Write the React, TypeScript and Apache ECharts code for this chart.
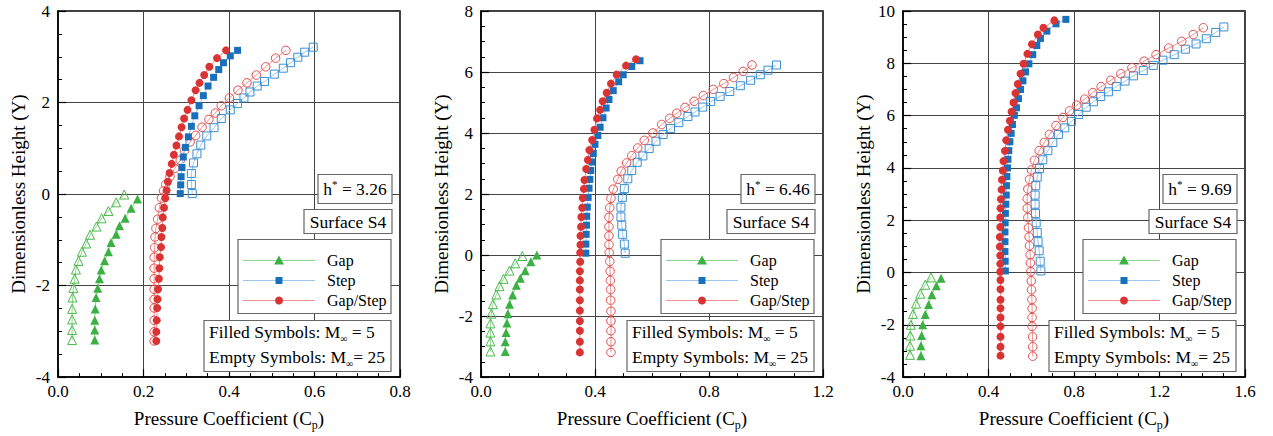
import React, { useEffect, useRef } from "react";
import * as echarts from "echarts";

const FONT = "Liberation Serif";

// ---------- Panel titles / labels ----------
const hStarLabels = ["3.26", "6.46", "9.69"];
const surfaceLabel = "Surface S4";
const legendNames = ["Gap", "Step", "Gap/Step"];
const xMax = [0.8, 1.2, 1.6];
const xInterval = [0.2, 0.4, 0.4];
const yMax = [4, 8, 10];
const yMin = -4;
const yInterval = 2;

// ---------- Panel 1 (h* = 3.26) : [Cp, Y] ----------
const p1GapM5 = [[0.186,-0.11],[0.171,-0.31],[0.157,-0.53],[0.144,-0.69],[0.136,-0.88],[0.124,-1.06],[0.118,-1.26],[0.109,-1.46],[0.101,-1.66],[0.097,-1.85],[0.093,-2.06],[0.089,-2.26],[0.087,-2.51],[0.086,-2.76],[0.086,-2.97],[0.086,-3.19]];
const p1GapM25 = [[0.155,-0.01],[0.136,-0.18],[0.118,-0.37],[0.102,-0.53],[0.090,-0.71],[0.075,-0.89],[0.066,-1.08],[0.056,-1.26],[0.048,-1.46],[0.042,-1.65],[0.039,-1.85],[0.036,-2.05],[0.034,-2.26],[0.033,-2.51],[0.033,-2.74],[0.033,-2.97],[0.033,-3.19]];
const p1StepM5 = [[0.286,0.01],[0.287,0.20],[0.288,0.38],[0.290,0.58],[0.293,0.81],[0.298,1.02],[0.305,1.25],[0.312,1.48],[0.320,1.71],[0.330,1.93],[0.340,2.15],[0.351,2.36],[0.364,2.55],[0.376,2.72],[0.387,2.87],[0.403,3.02],[0.420,3.14]];
const p1StepM25 = [[0.314,0.01],[0.312,0.21],[0.312,0.45],[0.317,0.68],[0.325,0.88],[0.334,1.07],[0.348,1.27],[0.365,1.45],[0.382,1.65],[0.403,1.84],[0.420,1.98],[0.435,2.10],[0.449,2.23],[0.466,2.36],[0.483,2.46],[0.506,2.62],[0.527,2.75],[0.544,2.87],[0.561,2.99],[0.577,3.10],[0.597,3.21]];
const p1GapStepM5 = [[0.230,-3.21],[0.230,-3.01],[0.231,-2.76],[0.232,-2.49],[0.233,-2.30],[0.234,-2.08],[0.236,-1.85],[0.237,-1.62],[0.238,-1.38],[0.241,-1.16],[0.242,-0.94],[0.244,-0.74],[0.245,-0.51],[0.248,-0.30],[0.251,-0.09],[0.254,0.08],[0.257,0.27],[0.261,0.46],[0.266,0.66],[0.271,0.86],[0.277,1.06],[0.283,1.26],[0.289,1.46],[0.295,1.65],[0.303,1.84],[0.312,2.05],[0.322,2.27],[0.331,2.43],[0.342,2.60],[0.354,2.78],[0.372,2.97],[0.393,3.14]];
const p1GapStepM25 = [[0.225,-3.21],[0.225,-3.01],[0.225,-2.76],[0.225,-2.49],[0.225,-2.30],[0.225,-2.08],[0.225,-1.85],[0.225,-1.62],[0.225,-1.38],[0.226,-1.17],[0.227,-0.94],[0.229,-0.75],[0.233,-0.55],[0.237,-0.30],[0.242,-0.09],[0.247,0.07],[0.252,0.21],[0.262,0.38],[0.273,0.56],[0.286,0.74],[0.296,0.95],[0.309,1.14],[0.322,1.28],[0.337,1.46],[0.353,1.63],[0.368,1.77],[0.382,1.93],[0.401,2.10],[0.421,2.27],[0.442,2.43],[0.464,2.60],[0.486,2.78],[0.509,2.97],[0.533,3.14]];

// ---------- Panel 2 (h* = 6.46) ----------
const p2GapM5 = [[0.196,0.00],[0.175,-0.22],[0.155,-0.51],[0.138,-0.76],[0.124,-0.99],[0.111,-1.31],[0.100,-1.61],[0.094,-1.92],[0.091,-2.23],[0.088,-2.54],[0.085,-2.84],[0.085,-3.16]];
const p2GapM25 = [[0.145,-0.03],[0.120,-0.27],[0.100,-0.51],[0.079,-0.78],[0.065,-1.02],[0.054,-1.29],[0.042,-1.61],[0.036,-1.92],[0.033,-2.24],[0.033,-2.54],[0.033,-2.83],[0.033,-3.16]];
const p2StepM5 = [[0.368,0.06],[0.368,0.36],[0.369,0.68],[0.370,0.98],[0.371,1.27],[0.373,1.57],[0.376,1.89],[0.379,2.19],[0.382,2.48],[0.385,2.77],[0.389,3.05],[0.394,3.33],[0.400,3.63],[0.410,3.92],[0.418,4.19],[0.428,4.50],[0.439,4.82],[0.449,5.10],[0.464,5.39],[0.483,5.68],[0.499,5.91],[0.529,6.18],[0.558,6.37]];
const p2StepM25 = [[0.506,0.06],[0.503,0.36],[0.497,0.68],[0.494,0.98],[0.491,1.25],[0.491,1.57],[0.496,1.89],[0.503,2.18],[0.515,2.50],[0.529,2.77],[0.548,3.04],[0.568,3.25],[0.590,3.49],[0.614,3.73],[0.639,3.95],[0.665,4.15],[0.694,4.34],[0.726,4.54],[0.751,4.69],[0.778,4.85],[0.806,5.03],[0.839,5.20],[0.873,5.36],[0.910,5.55],[0.946,5.73],[0.980,5.91],[1.007,6.06],[1.037,6.23]];
const p2GapStepM5 = [[0.347,-3.19],[0.347,-2.84],[0.347,-2.48],[0.347,-2.16],[0.347,-1.82],[0.347,-1.48],[0.347,-1.13],[0.347,-0.83],[0.347,-0.53],[0.348,-0.22],[0.348,0.08],[0.349,0.34],[0.349,0.63],[0.351,0.93],[0.352,1.25],[0.355,1.55],[0.357,1.87],[0.361,2.17],[0.363,2.46],[0.369,2.82],[0.375,3.12],[0.380,3.44],[0.390,3.77],[0.398,4.11],[0.407,4.48],[0.418,4.76],[0.427,5.04],[0.441,5.32],[0.456,5.62],[0.476,5.92],[0.509,6.21],[0.544,6.42]];
const p2GapStepM25 = [[0.456,-3.19],[0.456,-2.84],[0.456,-2.48],[0.456,-2.16],[0.456,-1.84],[0.455,-1.48],[0.455,-1.13],[0.454,-0.83],[0.453,-0.53],[0.452,-0.21],[0.450,0.08],[0.449,0.34],[0.449,0.63],[0.449,0.93],[0.449,1.24],[0.452,1.55],[0.456,1.86],[0.464,2.16],[0.480,2.48],[0.492,2.75],[0.511,3.02],[0.529,3.26],[0.550,3.51],[0.573,3.76],[0.603,4.00],[0.634,4.28],[0.662,4.48],[0.687,4.65],[0.716,4.84],[0.748,5.04],[0.780,5.23],[0.815,5.43],[0.852,5.62],[0.886,5.82],[0.920,6.02],[0.951,6.23]];

// ---------- Panel 3 (h* = 9.69) ----------
const p3GapM5 = [[0.178,-0.22],[0.156,-0.51],[0.135,-0.85],[0.120,-1.22],[0.104,-1.61],[0.092,-2.00],[0.087,-2.41],[0.084,-2.80],[0.084,-3.18]];
const p3GapM25 = [[0.131,-0.19],[0.104,-0.47],[0.081,-0.81],[0.061,-1.19],[0.047,-1.59],[0.037,-2.00],[0.034,-2.41],[0.033,-2.80],[0.033,-3.15]];
const p3StepM5 = [[0.479,0.06],[0.478,0.43],[0.477,0.80],[0.477,1.18],[0.477,1.55],[0.478,1.90],[0.479,2.26],[0.481,2.61],[0.483,2.96],[0.484,3.32],[0.486,3.67],[0.489,4.00],[0.491,4.33],[0.495,4.66],[0.500,5.00],[0.506,5.32],[0.512,5.66],[0.521,6.01],[0.531,6.30],[0.540,6.65],[0.550,7.00],[0.561,7.33],[0.573,7.67],[0.589,7.98],[0.607,8.33],[0.626,8.68],[0.643,8.95],[0.673,9.23],[0.716,9.51],[0.762,9.68]];
const p3StepM25 = [[0.645,0.06],[0.642,0.43],[0.637,0.83],[0.632,1.18],[0.628,1.53],[0.623,1.90],[0.620,2.26],[0.618,2.61],[0.618,2.96],[0.621,3.32],[0.628,3.65],[0.639,3.98],[0.654,4.31],[0.678,4.66],[0.701,4.97],[0.727,5.28],[0.757,5.53],[0.788,5.78],[0.822,6.04],[0.857,6.32],[0.891,6.53],[0.925,6.73],[0.961,6.91],[0.998,7.11],[1.039,7.32],[1.078,7.52],[1.124,7.72],[1.171,7.92],[1.216,8.12],[1.269,8.33],[1.321,8.54],[1.371,8.74],[1.419,8.94],[1.463,9.18],[1.501,9.39]];
const p3GapStepM5 = [[0.456,-3.18],[0.456,-2.84],[0.456,-2.46],[0.456,-2.06],[0.456,-1.72],[0.456,-1.37],[0.456,-1.04],[0.456,-0.64],[0.456,-0.29],[0.455,0.03],[0.455,0.33],[0.455,0.65],[0.453,0.99],[0.453,1.36],[0.455,1.74],[0.455,2.10],[0.456,2.46],[0.458,2.80],[0.461,3.17],[0.463,3.55],[0.467,3.90],[0.470,4.26],[0.477,4.65],[0.483,5.06],[0.491,5.46],[0.500,5.80],[0.508,6.15],[0.517,6.50],[0.526,6.86],[0.537,7.21],[0.550,7.60],[0.564,7.98],[0.582,8.36],[0.603,8.73],[0.631,9.10],[0.657,9.36],[0.708,9.64]];
const p3GapStepM25 = [[0.607,-3.20],[0.607,-2.84],[0.606,-2.46],[0.604,-2.06],[0.604,-1.72],[0.604,-1.37],[0.603,-1.03],[0.601,-0.66],[0.600,-0.32],[0.598,0.03],[0.596,0.37],[0.595,0.68],[0.592,1.02],[0.590,1.36],[0.587,1.71],[0.584,2.10],[0.581,2.46],[0.581,2.82],[0.584,3.19],[0.592,3.56],[0.601,3.92],[0.615,4.29],[0.637,4.66],[0.661,4.97],[0.685,5.28],[0.716,5.62],[0.748,5.93],[0.779,6.18],[0.813,6.40],[0.850,6.63],[0.888,6.88],[0.927,7.11],[0.972,7.35],[1.019,7.60],[1.071,7.83],[1.128,8.08],[1.184,8.33],[1.243,8.58],[1.304,8.84],[1.358,9.10],[1.405,9.36]];

const panels = [
  { gap: [p1GapM5, p1GapM25], step: [p1StepM5, p1StepM25], gs: [p1GapStepM5, p1GapStepM25] },
  { gap: [p2GapM5, p2GapM25], step: [p2StepM5, p2StepM25], gs: [p2GapStepM5, p2GapStepM25] },
  { gap: [p3GapM5, p3GapM25], step: [p3StepM5, p3StepM25], gs: [p3GapStepM5, p3GapStepM25] },
];

const STYLE = {
  gap: { symbol: "triangle", fill: "#3bb143", edge: "#4cb84c", line: "#8fd48f", size: [9, 9] },
  step: { symbol: "rect", fill: "#1a6fbb", edge: "#3a8fd3", line: "#9cc6ea", size: [7, 8] },
  gs: { symbol: "circle", fill: "#d93333", edge: "#e04a4a", line: "#ee8e8e", size: [8, 8.5] },
};

const GRID_LEFT = [58, 481, 903];
const GRID_W = 342;
const GRID_TOP = 11;
const GRID_H = 375;

function makeSeries() {
  const out: any[] = [];
  panels.forEach((p, i) => {
    const order: [string, number][] = [
      ["gap", 1], ["gap", 0], ["step", 1], ["gs", 1], ["step", 0], ["gs", 0],
    ];
    order.forEach(([k, m]) => {
      const st = (STYLE as any)[k];
      const data = (p as any)[k][m];
      const filled = m === 0;
      const nm = legendNames[k === "gap" ? 0 : k === "step" ? 1 : 2] + (filled ? " (M=5)" : " (M=25)");
      out.push({
        type: "line",
        name: nm,
        xAxisIndex: i,
        yAxisIndex: i,
        data,
        symbol: st.symbol,
        symbolSize: st.size[m],
        showSymbol: true,
        clip: false,
        lineStyle: { color: st.line, width: 1 },
        itemStyle: filled
          ? { color: st.fill, borderWidth: 0 }
          : { color: "rgba(255,255,255,0)", borderColor: st.edge, borderWidth: 1 },
        emphasis: { disabled: true },
        z: filled ? 3 : 2,
      });
    });
  });
  return out;
}

const richName = {
  a: { fontFamily: FONT, fontSize: 19, color: "#000", lineHeight: 26 },
  s: { fontFamily: FONT, fontSize: 12, color: "#000", lineHeight: 12, padding: [14, 0, 0, 0] },
};

function makeAxes() {
  const xAxis: any[] = [];
  const yAxis: any[] = [];
  for (let i = 0; i < 3; i++) {
    xAxis.push({
      type: "value",
      gridIndex: i,
      min: 0,
      max: xMax[i],
      interval: xInterval[i],
      name: "{a|Pressure Coefficient (C}{s|p}{a|)}",
      nameLocation: "middle",
      nameGap: 19,
      nameTextStyle: { fontFamily: FONT, rich: richName },
      axisLine: { show: true, onZero: false, lineStyle: { color: "#000", width: 1.5 } },
      axisTick: { show: true, inside: true, length: 8, lineStyle: { color: "#000", width: 1.2 } },
      minorTick: { show: true, splitNumber: 4, length: 4, lineStyle: { color: "#000", width: 1 } },
      splitLine: { show: true, lineStyle: { color: "#444", width: 1 } },
      axisLabel: {
        color: "#000", fontSize: 17, fontFamily: FONT, margin: 6,
        formatter: (v: number) => v.toFixed(1),
      },
    });
    yAxis.push({
      type: "value",
      gridIndex: i,
      min: yMin,
      max: yMax[i],
      interval: yInterval,
      name: "Dimensionless Height (Y)",
      nameLocation: "middle",
      nameGap: 30,
      nameTextStyle: { fontFamily: FONT, fontSize: 19, color: "#000" },
      axisLine: { show: true, onZero: false, lineStyle: { color: "#000", width: 1.5 } },
      axisTick: { show: true, inside: true, length: 8, lineStyle: { color: "#000", width: 1.2 } },
      minorTick: { show: true, splitNumber: 4, length: 4, lineStyle: { color: "#000", width: 1 } },
      splitLine: { show: true, lineStyle: { color: "#444", width: 1 } },
      axisLabel: { color: "#000", fontSize: 17, fontFamily: FONT, margin: 8 },
    });
  }
  return { xAxis, yAxis };
}

function boxRect(x: number, y: number, w: number, h: number) {
  return {
    type: "rect",
    shape: { x, y, width: w, height: h },
    style: { fill: "#fff", stroke: "#666", lineWidth: 1.2 },
    z: 20,
  };
}

function txt(x: number, y: number, text: string, align: string, size: number, rich?: any) {
  return {
    type: "text",
    x, y, z: 21,
    style: {
      text, fill: "#000", fontFamily: FONT, fontSize: size, align, verticalAlign: "middle",
      rich,
    },
  };
}

function makeGraphics() {
  const g: any[] = [];
  const richSup = {
    i: { fontFamily: FONT, fontSize: 17.5, lineHeight: 22 },
    p: { fontFamily: FONT, fontSize: 11, lineHeight: 11, padding: [0, 0, 11, 0] },
  };
  const richSub = {
    i: { fontFamily: FONT, fontSize: 17.5, lineHeight: 22 },
    b: { fontFamily: FONT, fontSize: 10, lineHeight: 10, padding: [12, 0, 0, 0] },
  };
  for (let i = 0; i < 3; i++) {
    const R = GRID_LEFT[i] + GRID_W;
    // h* box
    g.push(boxRect(R - 82, 174.5, 74, 29));
    g.push(txt(R - 45, 189, `{i|h}{p|*}{i| = ${hStarLabels[i]}}`, "center", 17.5, richSup));
    // Surface box
    g.push(boxRect(R - 96, 209.5, 88, 24));
    g.push(txt(R - 52, 221.5, surfaceLabel, "center", 17.5));
    // Legend box
    g.push(boxRect(R - 162, 239.5, 153, 74));
    const keys = ["gap", "step", "gs"];
    keys.forEach((k, j) => {
      const st = (STYLE as any)[k];
      const cy = 260.5 + j * 20;
      const cx = R - 121;
      g.push({
        type: "line", z: 21,
        shape: { x1: R - 157, y1: cy, x2: R - 85, y2: cy },
        style: { stroke: st.line, lineWidth: 1.2 },
      });
      if (k === "gap") {
        g.push({ type: "polygon", z: 22, shape: { points: [[cx, cy - 5], [cx + 5, cy + 4], [cx - 5, cy + 4]] }, style: { fill: st.fill } });
      } else if (k === "step") {
        g.push({ type: "rect", z: 22, shape: { x: cx - 3.5, y: cy - 3.5, width: 7, height: 7 }, style: { fill: st.fill } });
      } else {
        g.push({ type: "circle", z: 22, shape: { cx, cy, r: 4 }, style: { fill: st.fill } });
      }
      g.push(txt(R - 73, cy, legendNames[j], "left", 16));
    });
    // Filled / empty box
    g.push(boxRect(R - 196, 320.5, 187, 51));
    g.push(txt(R - 191, 332, "{i|Filled Symbols: M}{b|∞}{i| = 5}", "left", 17.5, richSub));
    g.push(txt(R - 191, 357, "{i|Empty Symbols: M}{b|∞}{i|= 25}", "left", 17.5, richSub));
  }
  return g;
}

export default function App() {
  const ref = useRef<HTMLDivElement>(null);
  useEffect(() => {
    if (!ref.current) return;
    const chart = echarts.init(ref.current, undefined, { renderer: "svg" });
    const { xAxis, yAxis } = makeAxes();
    chart.setOption({
      animation: false,
      backgroundColor: "#fff",
      textStyle: { fontFamily: FONT },
      grid: GRID_LEFT.map((l) => ({
        left: l, top: GRID_TOP, width: GRID_W, height: GRID_H,
        show: true, borderColor: "#000", borderWidth: 1.5, backgroundColor: "transparent",
        containLabel: false,
      })),
      xAxis,
      yAxis,
      series: makeSeries(),
      graphic: makeGraphics(),
    });
    return () => chart.dispose();
  }, []);
  return (
    <div
      ref={ref}
      style={{ position: "fixed", left: 0, top: 0, width: 1273, height: 436 }}
    />
  );
}
